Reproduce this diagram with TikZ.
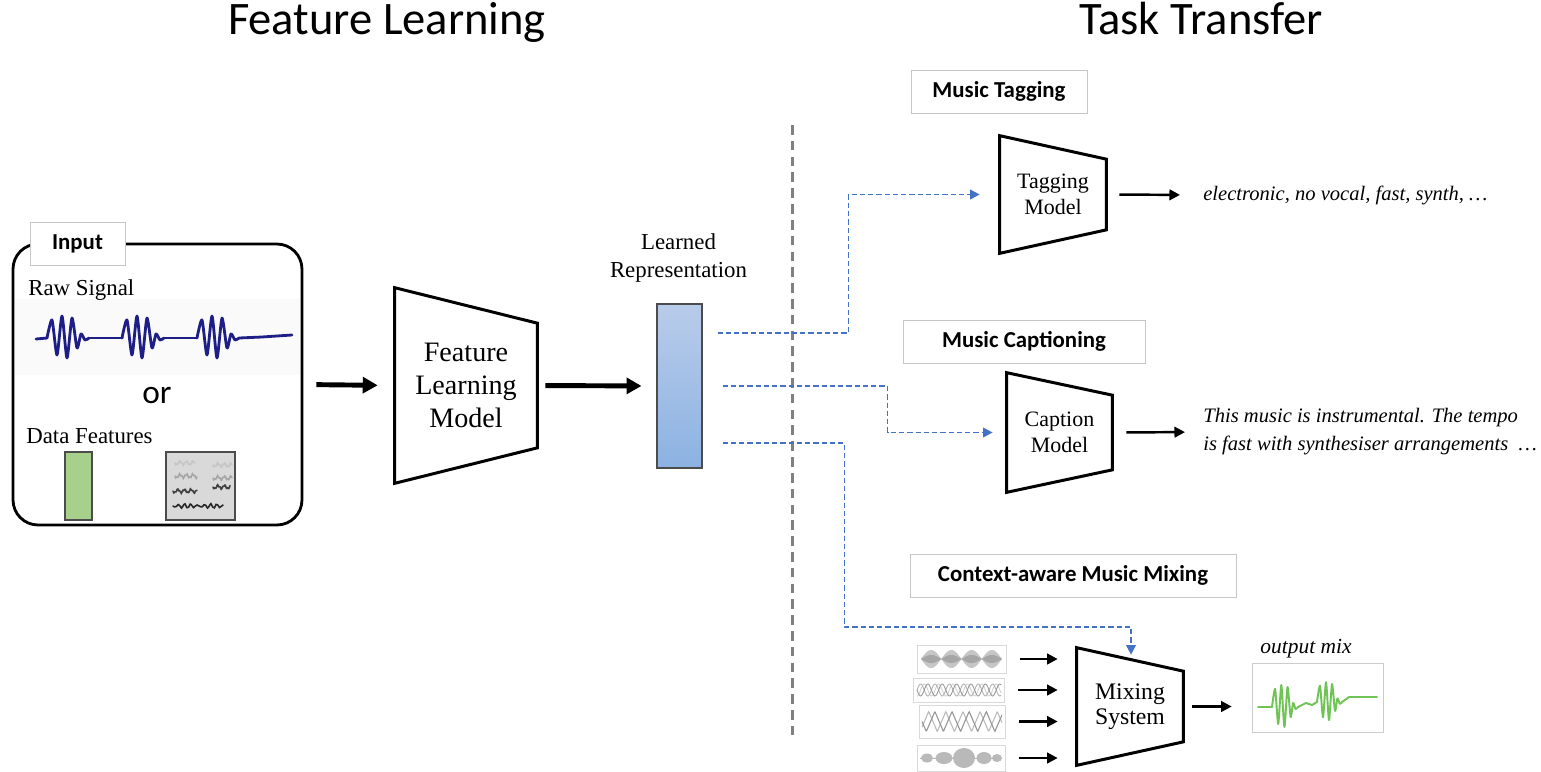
\documentclass[tikz,border=0pt]{standalone}
\usepackage{fontspec}
\setmainfont{Liberation Serif}
\newfontfamily\calfont{Carlito}
\usepackage{tikz}
\usetikzlibrary{arrows.meta,positioning,calc}
\usepackage{xcolor}
\definecolor{mtnavy}{RGB}{30,30,135}
\definecolor{mtblue}{RGB}{68,114,196}
\definecolor{mttop}{RGB}{184,204,234}
\definecolor{mtbottom}{RGB}{140,178,226}
\definecolor{mtgreen}{RGB}{168,208,141}
\definecolor{mtwave}{RGB}{112,196,86}
\definecolor{mtgray}{RGB}{128,128,128}
\tikzstyle{heading} = [font=\calfont\fontsize{26.5}{30}\selectfont, anchor=base]
\tikzstyle{taskbox} = [rectangle, draw=black!22, line width=0.5pt, fill=white, inner sep=0pt, font=\calfont\bfseries\fontsize{13}{15}\selectfont]
\tikzstyle{model} = [rectangle, inner sep=0pt, align=center]
\tikzstyle{outline} = [line width=1.7pt, line join=miter]
\tikzstyle{bigarrow} = [line width=2.8pt, -{Triangle[length=8.5pt,width=9pt]}]
\tikzstyle{arrow} = [line width=1.4pt, -{Triangle[length=6pt,width=6pt]}]
\tikzstyle{feed} = [mtblue, line width=1.1pt, dash pattern=on 3pt off 1.7pt, -{Triangle[length=5.5pt,width=5.5pt]}]
\tikzstyle{divider} = [mtgray, line width=1.7pt, dash pattern=on 5.5pt off 3.5pt]
\tikzstyle{thumb} = [rectangle, draw=black!15, line width=0.4pt, fill=white, inner sep=0pt]
\tikzstyle{rawwave} = [mtnavy, line width=1.6pt, line join=round, line cap=round]
\tikzstyle{outwave} = [mtwave, line width=1.1pt, line join=round, line cap=round]
\tikzstyle{plain} = [inner sep=0pt, font=\fontsize{13}{15}\selectfont]
\tikzstyle{result} = [inner sep=0pt, align=left, font=\itshape\fontsize{11.7}{16}\selectfont]

% trapezoid round a model node: #1 node, #2 inset of the right side
\newcommand{\modeloutline}[2]{\draw[outline] (#1.north west) -- ([yshift=-#2]#1.north east) -- ([yshift=#2]#1.south east) -- (#1.south west) -- cycle;}
% one burst of a signal, starting at #2
\newcommand{\signalburst}[2]{\draw[shift={#2}, #1] plot[smooth, tension=0.4] coordinates {(0,0) (5,-18) (10,17) (15,-22) (20,20) (25,-20) (30,10) (34,-4) (38,2) (42,0)};}

\begin{document}
\begin{tikzpicture}[x=0.02cm, y=-0.02cm]
\useasboundingbox (0,0) rectangle (1541,771);

% Headings
\node[heading] (fltitle) at (387,34) {Feature Learning};
\node[heading] (tttitle) at (1201,34) {Task Transfer};
\draw[divider] (792,125) -- (792,735);

% Input box
\node[draw, line width=1.6pt, rounded corners=0.5cm, minimum width=5.78cm, minimum height=5.62cm] (inbox) at (157.5,384.5) {};
\node[taskbox, minimum width=1.9cm, minimum height=0.86cm] (inlabel) at (77.5,243.5) {Input};
\fill[black!2] (15,299) rectangle (300,375);
\node[plain, anchor=base west] (rawlabel) at (28,295) {Raw Signal};
\draw[rawwave] (36,339) -- (47,338);
\foreach \bx in {47,122,197}
  \signalburst{rawwave}{(\bx,338)}
\draw[rawwave] (89,338) -- (122,338);
\draw[rawwave] (164,338) -- (197,338);
\draw[rawwave] (239,338) -- (262,337) -- (292,335);
\node[font=\calfont\fontsize{19}{22}\selectfont] (orlabel) at (157,395) {or};
\node[plain, anchor=base west] (datalabel) at (26,443) {Data Features};
\node[draw=black!70, line width=0.6pt, fill=mtgreen, minimum width=0.54cm, minimum height=1.36cm] (vecfeat) at (78.5,486) {};
\node[draw=black!70, line width=0.6pt, fill=black!15, minimum width=1.38cm, minimum height=1.36cm] (scorefeat) at (200.5,486) {};
\foreach \a/\b/\l/\c in {175/463/20/gray!45, 213/465/19/gray!45, 175/476/22/gray!70, 213/478/19/gray!70,
                         173/491/24/black!75, 213/487/17/black!75, 173/506/50/black!85}
  \draw[\c, line width=0.9pt, line cap=round] plot[domain=0:\l, samples=30, smooth] ({\x+\a}, {\b+1.6*sin(\x*55)+0.8*sin(\x*140)});

% Feature learning
\node[model, minimum width=2.84cm, minimum height=3.9cm, font=\fontsize{16}{18.7}\selectfont] (flm) at (466,385.5) {Feature\\Learning\\Model};
\modeloutline{flm}{0.71cm}
\node[draw=black!70, line width=0.6pt, top color=mttop, bottom color=mtbottom, minimum width=0.9cm, minimum height=3.28cm] (rep) at (679.5,386) {};
\node[align=center, inner sep=0pt, font=\fontsize{13}{16}\selectfont] (replabel) at (678.5,258) {Learned\\Representation};

\draw[bigarrow, shorten <=0.26cm, shorten >=0.34cm] (inbox.east) -- (flm.west);
\draw[bigarrow, shorten <=0.16cm, shorten >=0.3cm] (flm.east) -- (rep.west);

% Music tagging
\node[taskbox, minimum width=3.52cm, minimum height=0.86cm] (tagbox) at (999,91.5) {Music Tagging};
\node[model, minimum width=2.12cm, minimum height=2.34cm, font=\fontsize{12.5}{14.7}\selectfont] (tag) at (1053,194.5) {Tagging\\Model};
\modeloutline{tag}{0.47cm}
\node[result, anchor=west] (tagout) at (1203,195) {electronic, no vocal, fast, synth, \dots};
\draw[arrow, shorten <=0.26cm, shorten >=0.46cm] (tag.east) -- (tagout.west);

% Music captioning
\node[taskbox, minimum width=4.84cm, minimum height=0.86cm] (capbox) at (1024,341.5) {Music Captioning};
\node[model, minimum width=2.1cm, minimum height=2.38cm, font=\fontsize{12.5}{14.7}\selectfont] (cap) at (1059.5,432.5) {Caption\\Model};
\modeloutline{cap}{0.45cm}
\node[result, anchor=west] (capout) at (1203,432) {This music is instrumental. The tempo\\is fast with synthesiser arrangements \ \dots};
\draw[arrow, shorten <=0.28cm, shorten >=0.36cm] (cap.east) -- (capout.west);

% Music mixing
\node[taskbox, minimum width=6.52cm, minimum height=0.86cm] (mixbox) at (1073,575.5) {Context-aware Music Mixing};
\node[model, minimum width=2.12cm, minimum height=2.34cm, font=\fontsize{13.5}{14.5}\selectfont] (mix) at (1130,706.5) {Mixing\\System};
\modeloutline{mix}{0.47cm}

\node[thumb, minimum width=1.78cm, minimum height=0.56cm] (th1) at (961.5,659) {};
\node[thumb, minimum width=1.82cm, minimum height=0.48cm] (th2) at (958.5,690) {};
\node[thumb, minimum width=1.72cm, minimum height=0.66cm] (th3) at (962,721.5) {};
\node[thumb, minimum width=1.76cm, minimum height=0.52cm] (th4) at (961,758) {};
\fill[gray!45] plot[domain=921:1002, samples=100] (\x,{659-9*abs(sin((\x-921)*180/20.25))})
  -- plot[domain=1002:921, samples=100] (\x,{659+9*abs(sin((\x-921)*180/20.25))}) -- cycle;
\fill[gray!70] plot[domain=921:1002, samples=100] (\x,{659-4*abs(sin((\x-921)*180/20.25))})
  -- plot[domain=1002:921, samples=100] (\x,{659+4*abs(sin((\x-921)*180/20.25))}) -- cycle;
\foreach \ph/\c in {90/gray!35, 180/gray!60, 0/gray!80}
  \draw[\c, line width=0.5pt] plot[domain=917:1001, samples=90, smooth] (\x,{690+6*sin((\x-917)*25+\ph)});
\foreach \ph/\c in {130/gray!55, 0/gray!85}
  \draw[\c, line width=0.6pt] plot[domain=922:1002, samples=160] (\x,{721.5+10*asin(sin((\x-922)*21+\ph))/90});
\draw[gray!60, line width=0.5pt] (920,758) -- (1002,758);
\foreach \ex/\rx/\ry in {927/0.12/0.09, 944/0.17/0.12, 964/0.22/0.2, 984/0.15/0.12, 997/0.1/0.08}
  \fill[gray!55] (\ex,758) ellipse [x radius=\rx cm, y radius=\ry cm];
\foreach \t in {th1,th2,th3,th4}
  \draw[arrow, shorten <=0.28cm, shorten >=0.38cm] (\t.east) -- (\t.east -| mix.west);

\node[thumb, draw=black!20, minimum width=2.62cm, minimum height=1.38cm] (outbox) at (1317.5,697.5) {};
\draw[outwave] (1258,707) -- (1272,707);
\signalburst{outwave, xscale=0.62}{(1272,707)}
\draw[outwave] (1298,707) -- (1306,703) -- (1312,705) -- (1317,702);
\signalburst{outwave, xscale=0.6, yscale=0.9}{(1317,702)}
\draw[outwave] (1342,702) -- (1349,697) -- (1377,697);
\node[inner sep=0pt, font=\itshape\fontsize{12.2}{14}\selectfont] (outlabel) at (1306,649) {output mix};
\draw[arrow, shorten <=0.18cm, shorten >=0.4cm] (mix.east) -- (mix.east -| outbox.west);

% Representation feeds the three tasks
\coordinate (tap1) at ([xshift=0.3cm, yshift=1.06cm]rep.east);
\coordinate (tap2) at ([xshift=0.4cm]rep.east);
\coordinate (tap3) at ([xshift=0.4cm, yshift=-1.14cm]rep.east);
\draw[feed] (tap1) -- ++(131,0) |- ([xshift=-0.4cm]tag.west);
\draw[feed] (tap2) -- ++(165,0) |- ([xshift=-0.28cm]cap.west);
\draw[feed] (tap3) -- ++(122,0) -- ++(0,184) -| ([xshift=0.02cm, yshift=-0.14cm]mix.north);
\end{tikzpicture}
\end{document}
